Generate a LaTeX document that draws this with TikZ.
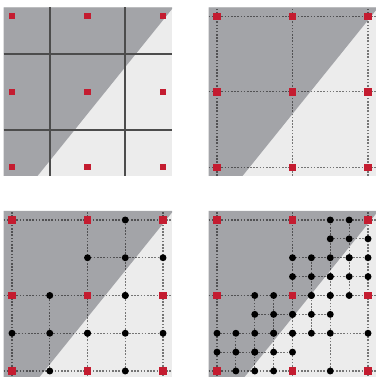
\documentclass[tikz,border=0pt]{standalone}
\definecolor{darkreg}{RGB}{163,164,168}
\definecolor{lightreg}{RGB}{236,236,236}
\definecolor{samplered}{RGB}{196,28,48}
\tikzset{
  gridsolid/.style={draw=black!70, line width=0.6pt},
  griddash/.style={draw=black, draw opacity=0.5, line width=0.4pt, dash pattern=on 0.6pt off 0.6pt},
  redsq/.style={fill=samplered},
  blackdot/.style={fill=black},
}
\newcommand\panelbg{%
  \fill[lightreg] (-0.11,-0.11) rectangle (2.12,2.12);
  \fill[darkreg] (-0.11,-0.11) -- (0.34,-0.11) -- (2.12,2.10) -- (2.12,2.12) -- (-0.11,2.12) -- cycle;
}
\newcommand\redsquares[1]{%
  \foreach \i in {0,1,2} {\foreach \j in {0,1,2} {\fill[redsq] (\i-#1,\j-#1) rectangle (\i+#1,\j+#1);}}
}
\newcommand\dashgrid{%
  \foreach \k in {0,1,2} {\draw[griddash] (\k,-0.11) -- (\k,2.12); \draw[griddash] (-0.11,\k) -- (2.12,\k);}
}
\newcommand\subcell[3]{%
  \draw[griddash] ({#1+#3/2},#2) -- ({#1+#3/2},{#2+#3});
  \draw[griddash] (#1,{#2+#3/2}) -- ({#1+#3},{#2+#3/2});
}
\newcommand\subdots[3]{%
  \fill[blackdot] ({#1+#3/2},#2) circle (0.046);
  \fill[blackdot] (#1,{#2+#3/2}) circle (0.046);
  \fill[blackdot] ({#1+#3/2},{#2+#3/2}) circle (0.046);
  \fill[blackdot] ({#1+#3},{#2+#3/2}) circle (0.046);
  \fill[blackdot] ({#1+#3/2},{#2+#3}) circle (0.046);
}
\begin{document}
\begin{tikzpicture}
\useasboundingbox (0,0) rectangle (4.967,4.993);
% panel 1
\begin{scope}[shift={(0.159,2.775)}]
  \panelbg
  \foreach \k in {0.5,1.5} {\draw[gridsolid] (\k,-0.11) -- (\k,2.12); \draw[gridsolid] (-0.11,\k) -- (2.12,\k);}
  \redsquares{0.04}
\end{scope}
% panel 2
\begin{scope}[shift={(2.874,2.775)}]
  \panelbg
  \dashgrid
  \redsquares{0.048}
\end{scope}
% panel 3
\begin{scope}[shift={(0.159,0.0795)}]
  \panelbg
  \dashgrid
  \subcell{0}{0}{1}\subcell{1}{0}{1}\subcell{1}{1}{1}
  \subdots{0}{0}{1}\subdots{1}{0}{1}\subdots{1}{1}{1}
  \redsquares{0.048}
\end{scope}
% panel 4
\begin{scope}[shift={(2.874,0.0795)}]
  \panelbg
  \dashgrid
  \subcell{0}{0}{1}\subcell{1}{0}{1}\subcell{1}{1}{1}
  \subcell{1.5}{1.5}{0.5}\subcell{1}{1}{0.5}\subcell{1.5}{1}{0.5}\subcell{1}{0.5}{0.5}
  \subcell{0.5}{0.5}{0.5}\subcell{0}{0}{0.5}\subcell{0.5}{0}{0.5}
  \subdots{0}{0}{1}\subdots{1}{0}{1}\subdots{1}{1}{1}
  \subdots{1.5}{1.5}{0.5}\subdots{1}{1}{0.5}\subdots{1.5}{1}{0.5}\subdots{1}{0.5}{0.5}
  \subdots{0.5}{0.5}{0.5}\subdots{0}{0}{0.5}\subdots{0.5}{0}{0.5}
  \redsquares{0.048}
\end{scope}
\end{tikzpicture}
\end{document}
